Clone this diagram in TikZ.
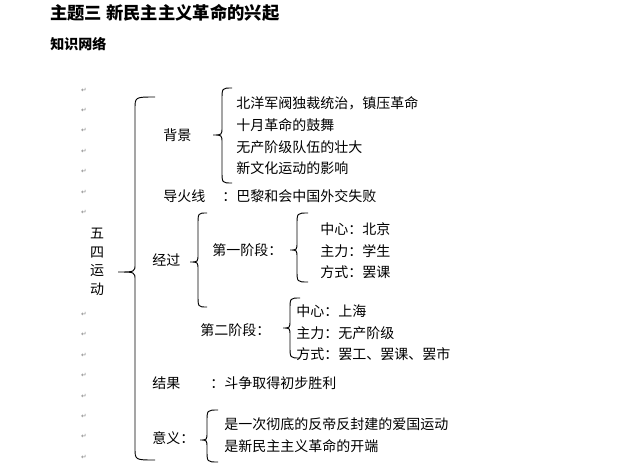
\documentclass[tikz,border=0pt]{standalone}
\usepackage{fontspec}
\setmainfont{Noto Sans CJK SC}
\newfontfamily\djv{DejaVu Sans}
\newcommand\mybrc[6]{% tip x, stem x, end x, ytop, ytip, ybot
  \draw[brc] (#3,#4) .. controls (#2,#4) .. (#2,#4+12) -- (#2,#5-8) .. controls (#2,#5) .. (#1,#5)
    .. controls (#2,#5) .. (#2,#5+8) -- (#2,#6-12) .. controls (#2,#6) .. (#3,#6);}
\begin{document}
\begin{tikzpicture}[x=0.75pt,y=-0.75pt,
  brc/.style={line width=0.7pt},
  t/.style={anchor=west,inner sep=0pt,font=\fontsize{10.5pt}{12pt}\selectfont},
  pm/.style={inner sep=0pt,text=gray,font=\djv\fontsize{5pt}{6pt}\selectfont}]
\useasboundingbox[fill=white] (0,0) rectangle (630,464);
\node[anchor=west,inner sep=0pt,font=\bfseries\fontsize{13pt}{15pt}\selectfont] (title) at (50,13) {主题三 新民主主义革命的兴起};
\node[anchor=west,inner sep=0pt,font=\bfseries\fontsize{10.5pt}{12pt}\selectfont] (net) at (50,44) {知识网络};
\foreach \k in {0,...,6,11,12,...,18} \node[pm] (p\k) at (84,90+20.4*\k) {↵};
\node[t,anchor=center,align=center,font=\fontsize{10.5pt}{14pt}\selectfont] (ws) at (97,262) {五\\四\\运\\动};
\mybrc{118}{135}{155}{97}{272}{460}
\mybrc{213}{222}{232}{88}{135}{183}
\mybrc{190}{198}{207}{213}{262}{307}
\mybrc{290}{297}{308}{213}{250}{282}
\mybrc{283}{290}{300}{298}{328}{358}
\mybrc{200}{207}{218}{410}{440}{462}
\node[t] (bj) at (163,135) {背景};
\node[t] (b1) at (236,103) {北洋军阀独裁统治，镇压革命};
\node[t] (b2) at (236,125) {十月革命的鼓舞};
\node[t] (b3) at (236,147) {无产阶级队伍的壮大};
\node[t] (b4) at (236,168) {新文化运动的影响};
\node[t] (dh) at (163,196) {导火线};
\node[t] (dh2) at (222,196) {：巴黎和会中国外交失败};
\node[t] (jg) at (152,260) {经过};
\node[t] (s1) at (212,250) {第一阶段：};
\node[t] (s11) at (320,229) {中心：北京};
\node[t] (s12) at (320,251) {主力：学生};
\node[t] (s13) at (320,272) {方式：罢课};
\node[t] (s2) at (200,330) {第二阶段：};
\node[t] (s21) at (296,311) {中心：上海};
\node[t] (s22) at (296,333) {主力：无产阶级};
\node[t] (s23) at (296,354) {方式：罢工、罢课、罢市};
\node[t] (jgu) at (152,383) {结果};
\node[t] (jgu2) at (210,383) {：斗争取得初步胜利};
\node[t] (yy) at (152,438) {意义：};
\node[t] (y1) at (224,424) {是一次彻底的反帝反封建的爱国运动};
\node[t] (y2) at (224,446) {是新民主主义革命的开端};
\end{tikzpicture}
\end{document}
